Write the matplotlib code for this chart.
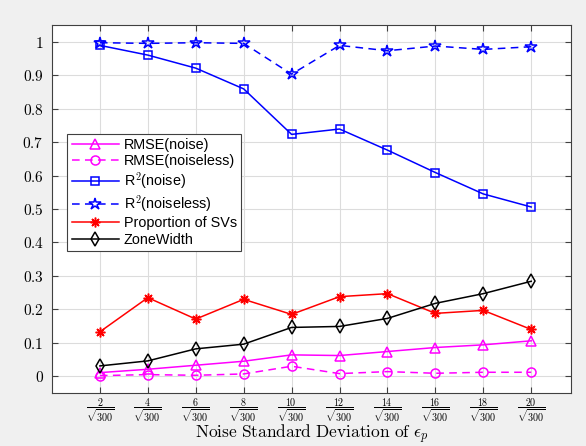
import numpy as np
import matplotlib.pyplot as plt

plt.rcParams['mathtext.fontset'] = 'cm'

# noise levels k, the std is k/sqrt(300)
k = [2, 4, 6, 8, 10, 12, 14, 16, 18, 20]

rmse_noise = [0.011, 0.021, 0.033, 0.045, 0.064, 0.062, 0.074, 0.086, 0.094, 0.106]
rmse_noiseless = [0.002, 0.005, 0.003, 0.007, 0.030, 0.008, 0.014, 0.009, 0.012, 0.012]
r2_noise = [0.989, 0.960, 0.921, 0.859, 0.723, 0.739, 0.676, 0.609, 0.545, 0.506]
r2_noiseless = [0.997, 0.995, 0.997, 0.995, 0.903, 0.989, 0.973, 0.987, 0.977, 0.985]
prop_svs = [0.133, 0.235, 0.171, 0.230, 0.185, 0.238, 0.247, 0.188, 0.197, 0.140]
zone_width = [0.031, 0.046, 0.082, 0.096, 0.146, 0.149, 0.173, 0.218, 0.247, 0.284]

labels = ['RMSE(noise)', 'RMSE(noiseless)', r'R$^2$(noise)',
          r'R$^2$(noiseless)', 'Proportion of SVs', 'ZoneWidth']
xtick_labels = [r'$\dfrac{%d}{\sqrt{300}}$' % v for v in k]
ytick_vals = [0, 0.1, 0.2, 0.3, 0.4, 0.5, 0.6, 0.7, 0.8, 0.9, 1]

x = np.array(k) / np.sqrt(300)

fig = plt.figure(figsize=(5.86, 4.46), dpi=100, facecolor='#f0f0f0')
ax = fig.add_axes([0.0887, 0.1188, 0.8853, 0.8252])
ax.set_facecolor('white')

dash = (0, (5, 3.5))
ax.plot(x, rmse_noise, color='#ff00ff', lw=1.1, marker='^', ms=7,
        mfc='none', mew=1.1, label=labels[0])
ax.plot(x, rmse_noiseless, color='#ff00ff', lw=1.1, ls=dash, marker='o', ms=6.5,
        mfc='none', mew=1.1, label=labels[1])
ax.plot(x, r2_noise, color='#0000ff', lw=1.1, marker='s', ms=5.5,
        mfc='none', mew=1.1, label=labels[2])
ax.plot(x, r2_noiseless, color='#0000ff', lw=1.1, ls=dash, marker='*', ms=9,
        mfc='none', mew=1.1, label=labels[3])
ax.plot(x, prop_svs, color='#ff0000', lw=1.1, marker=(8, 2, 0), ms=7,
        mew=1.1, label=labels[4])
ax.plot(x, zone_width, color='black', lw=1.1, marker='d', ms=7,
        mfc='none', mew=1.1, label=labels[5])

ax.set_xlim(0, 1.25)
ax.set_ylim(-0.05, 1.05)
ax.set_xticks(x)
ax.set_xticklabels(xtick_labels, fontsize=7.2)
ax.set_yticks(ytick_vals)
ax.set_yticklabels(['$%g$' % v for v in ytick_vals], fontsize=11)
ax.tick_params(direction='in', length=4, width=0.8, color='#404040',
               top=True, right=True, pad=6)
ax.tick_params(axis='x', pad=2)
ax.grid(True, color='#dcdcdc', lw=0.8)
ax.set_axisbelow(True)
for s in ax.spines.values():
    s.set_color('#404040')
    s.set_linewidth(0.8)

ax.set_xlabel(r'$\mathrm{Noise\ Standard\ Deviation\ of\ }\epsilon_p$',
              fontsize=12.5)
ax.xaxis.set_label_coords(0.5, -0.08)

leg = ax.legend(loc='lower left', bbox_to_anchor=(0.0295, 0.386),
                prop={'family': 'Liberation Sans', 'size': 10.4},
                handlelength=3.3, handletextpad=0.3, borderpad=0.3,
                labelspacing=0.15, borderaxespad=0, fancybox=False,
                framealpha=1, edgecolor='#404040')
leg.get_frame().set_linewidth(0.8)

fig.savefig('out.png', dpi=100, facecolor=fig.get_facecolor())
